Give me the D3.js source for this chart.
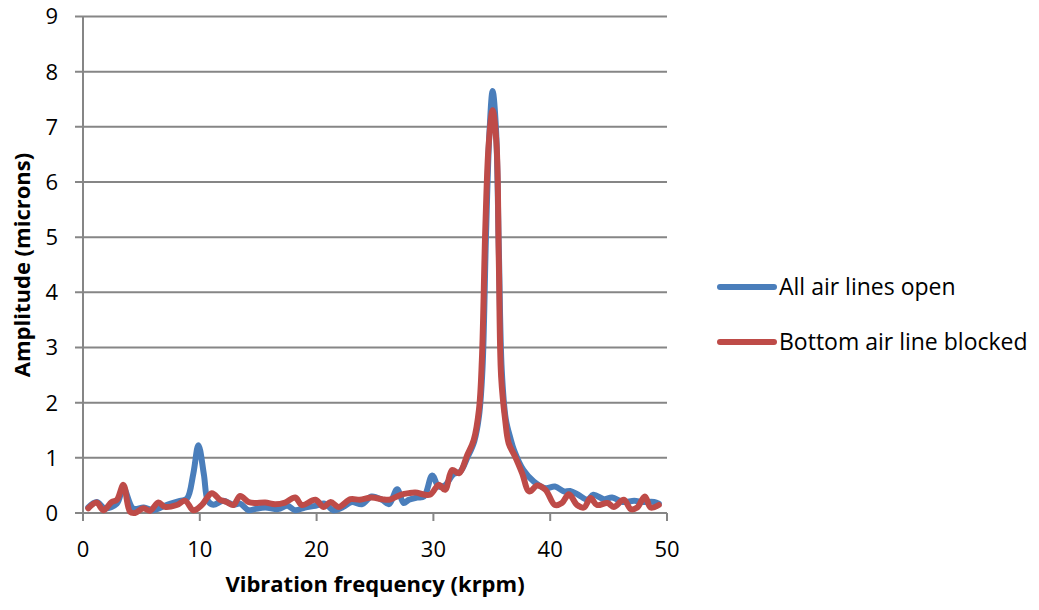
<!DOCTYPE html>
<html>
<head>
<meta charset="utf-8">
<script src="https://cdn.jsdelivr.net/npm/d3@7"></script>
<style>
  body { margin: 0; background: #fff; }
  text { font-family: "Open Sans", sans-serif; fill: #000; }
</style>
</head>
<body>
<script>
// data (krpm, microns)
var openX = [0.45, 1.17, 1.88, 2.9, 3.46, 4.3, 5.2, 6.0, 7.2, 8.3, 8.9, 9.45, 9.88, 10.35, 10.7, 11.17, 12.0, 12.88, 13.45, 14.17,
  14.7, 15.6, 16.7, 17.5, 18.17, 19.0, 19.9, 20.7, 21.45, 22.2, 23.0, 23.9, 24.7, 25.6, 26.2, 26.9, 27.45, 27.9, 28.6, 29.2, 29.9,
  30.45, 31.0, 31.7, 32.3, 32.9, 33.5, 33.9, 34.2, 34.5, 34.8, 35.07, 35.35, 35.6, 35.85, 36.2, 36.6, 36.9, 37.7, 38.6, 39.6,
  40.4, 41.2, 41.7, 42.4, 43.2, 43.7, 44.6, 45.3, 46.2, 47.2, 47.9, 48.9, 49.3];
var openY = [0.1, 0.2, 0.085, 0.17, 0.45, 0.08, 0.1, 0.05, 0.15, 0.22, 0.26, 0.72, 1.23, 0.7, 0.22, 0.15, 0.22, 0.15, 0.17, 0.05,
  0.07, 0.1, 0.07, 0.13, 0.05, 0.1, 0.13, 0.17, 0.05, 0.1, 0.2, 0.16, 0.3, 0.24, 0.16, 0.43, 0.18, 0.24, 0.28, 0.3, 0.68,
  0.48, 0.5, 0.7, 0.75, 1.0, 1.3, 1.75, 2.6, 5.0, 6.9, 7.65, 7.0, 4.8, 2.6, 1.7, 1.35, 1.14, 0.78, 0.57, 0.45,
  0.48, 0.39, 0.4, 0.33, 0.24, 0.33, 0.25, 0.28, 0.2, 0.22, 0.2, 0.2, 0.17];

var blockedX = [0.45, 1.17, 1.74, 2.46, 2.9, 3.46, 4.03, 4.46, 5.17, 5.74, 6.45, 7.03, 8.03, 8.74, 9.45, 10.17, 11.03, 11.74,
  12.3, 12.88, 13.45, 14.17, 14.7, 15.6, 16.45, 17.3, 18.17, 18.74, 19.9, 20.6, 21.2, 21.9, 22.9, 23.7, 24.7, 25.6, 26.2,
  27.2, 27.9, 28.45, 29.7, 30.45, 31.0, 31.6, 32.2, 32.9, 33.45, 33.9, 34.15, 34.45, 34.74, 35.07, 35.4, 35.6, 35.8, 36.15,
  36.45, 37.0, 37.6, 38.2, 38.9, 39.6, 40.4, 41.0, 41.6, 42.3, 42.9, 43.45, 44.0, 44.9, 45.45, 46.3, 46.9, 47.45, 48.1, 48.6, 49.3];
var blockedY = [0.085, 0.19, 0.05, 0.2, 0.24, 0.51, 0.02, 0.0, 0.085, 0.04, 0.19, 0.11, 0.145, 0.22, 0.05, 0.145, 0.36, 0.24,
  0.2, 0.145, 0.31, 0.2, 0.18, 0.19, 0.16, 0.19, 0.28, 0.145, 0.24, 0.11, 0.2, 0.11, 0.25, 0.24, 0.28, 0.25, 0.24,
  0.33, 0.36, 0.37, 0.33, 0.51, 0.42, 0.78, 0.72, 1.05, 1.32, 1.87, 2.77, 5.19, 6.7, 7.3, 6.7, 4.58, 2.47, 1.68,
  1.26, 1.02, 0.72, 0.39, 0.5, 0.42, 0.145, 0.18, 0.34, 0.145, 0.1, 0.27, 0.145, 0.18, 0.11, 0.24, 0.07, 0.1, 0.3, 0.1, 0.145];

var seriesNames = ["All air lines open", "Bottom air line blocked"];
var seriesColors = ["#4a7ebb", "#be4b48"];
var xTicks = [0, 10, 20, 30, 40, 50];
var yTicks = [0, 1, 2, 3, 4, 5, 6, 7, 8, 9];

var series = [
  { name: seriesNames[0], color: seriesColors[0], pts: openX.map((x, i) => [x, openY[i]]) },
  { name: seriesNames[1], color: seriesColors[1], pts: blockedX.map((x, i) => [x, blockedY[i]]) }
];

var W = 1039, H = 610;
var plot = { left: 83, right: 667, top: 16.5, bottom: 513 };

var svg = d3.select("body").append("svg")
  .attr("width", W)
  .attr("height", H);

var x = d3.scaleLinear().domain([0, 50]).range([plot.left, plot.right]);
var y = d3.scaleLinear().domain([0, 9]).range([plot.bottom, plot.top]);

// horizontal gridlines
svg.append("g").selectAll("line")
  .data(yTicks)
  .enter().append("line")
    .attr("x1", plot.left - 8)
    .attr("x2", plot.right)
    .attr("y1", d => y(d))
    .attr("y2", d => y(d))
    .attr("stroke", "#868686")
    .attr("stroke-width", 2);

// y axis line
svg.append("line")
  .attr("x1", plot.left).attr("x2", plot.left)
  .attr("y1", plot.top).attr("y2", plot.bottom)
  .attr("stroke", "#868686").attr("stroke-width", 2);

// x tick marks
svg.append("g").selectAll("line")
  .data(xTicks)
  .enter().append("line")
    .attr("x1", d => x(d)).attr("x2", d => x(d))
    .attr("y1", plot.bottom).attr("y2", plot.bottom + 8)
    .attr("stroke", "#868686").attr("stroke-width", 2);

// tick labels
svg.append("g").selectAll("text")
  .data(yTicks)
  .enter().append("text")
    .attr("x", 58)
    .attr("y", d => y(d))
    .attr("dy", "0.36em")
    .attr("text-anchor", "end")
    .style("font-size", "22px")
    .text(d => d);

svg.append("g").selectAll("text")
  .data(xTicks)
  .enter().append("text")
    .attr("x", d => x(d))
    .attr("y", 557)
    .attr("text-anchor", "middle")
    .style("font-size", "22px")
    .text(d => d);

// axis titles
svg.append("text")
  .attr("x", 375).attr("y", 592)
  .attr("text-anchor", "middle")
  .style("font-size", "22px").style("font-weight", "bold")
  .text("Vibration frequency (krpm)");

svg.append("text")
  .attr("transform", "translate(30,265) rotate(-90)")
  .attr("text-anchor", "middle")
  .style("font-size", "22px").style("font-weight", "bold")
  .text("Amplitude (microns)");

// smoothed lines, like excel's smoothed scatter
var line = d3.line()
  .x(d => x(d[0]))
  .y(d => y(d[1]))
  .curve(d3.curveCatmullRom.alpha(0.5));

svg.append("g").selectAll("path")
  .data(series)
  .enter().append("path")
    .attr("d", d => line(d.pts))
    .attr("fill", "none")
    .attr("stroke", d => d.color)
    .attr("stroke-width", 6)
    .attr("stroke-linejoin", "round")
    .attr("stroke-linecap", "round");

// legend
var legend = svg.append("g").selectAll("g")
  .data(series)
  .enter().append("g")
    .attr("transform", (d, i) => "translate(720," + (287 + i * 55) + ")");

legend.append("line")
  .attr("x1", 0).attr("x2", 54)
  .attr("stroke", d => d.color)
  .attr("stroke-width", 6)
  .attr("stroke-linecap", "round");

legend.append("text")
  .attr("x", 59)
  .attr("dy", "0.36em")
  .style("font-size", "23px")
  .text(d => d.name);
</script>
</body>
</html>
